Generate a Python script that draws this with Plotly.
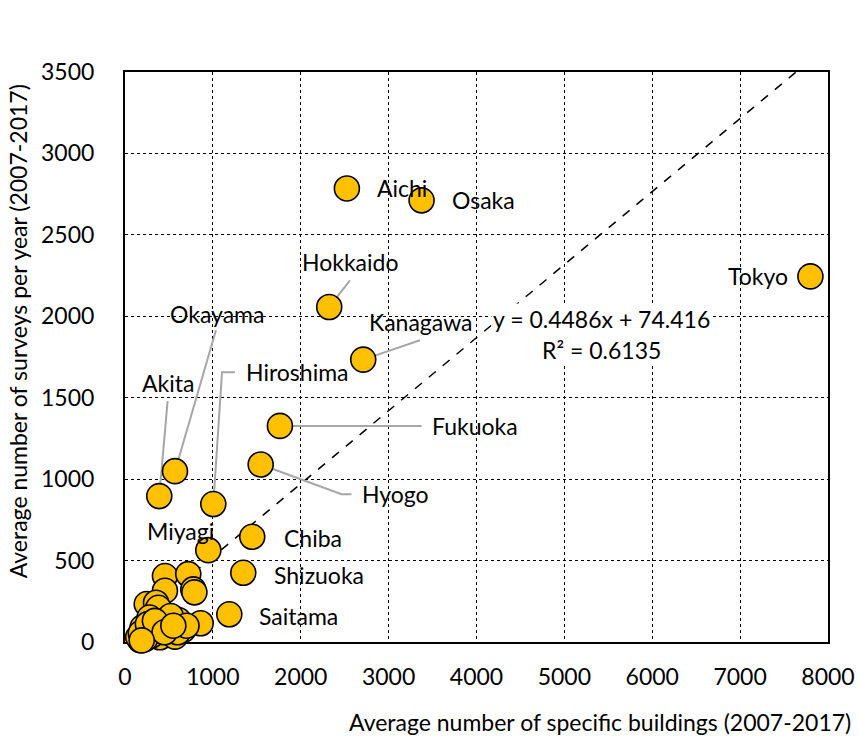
import plotly.graph_objects as go

# Average number of specific buildings vs. average number of surveys per year (2007-2017)
labeled_names = ["Tokyo", "Aichi", "Osaka", "Hokkaido", "Kanagawa", "Fukuoka", "Hyogo",
                 "Chiba", "Shizuoka", "Saitama", "Akita", "Okayama", "Hiroshima", "Miyagi"]
labeled_buildings = [7800, 2525, 3375, 2324, 2711, 1763, 1544,
                     1448, 1346, 1187, 390, 569, 1005, 948]
labeled_surveys = [2245, 2785, 2712, 2057, 1734, 1327, 1090,
                   646, 425, 170, 896, 1049, 847, 564]

# remaining prefectures (unlabelled, clustered near the origin)
other_buildings = [455, 720, 777, 790, 455, 247, 353, 368, 380, 861, 607, 663, 512, 398, 247,
                   171, 150, 322, 569, 200, 280, 300, 230, 420, 520, 600, 700, 180, 260, 340,
                   450, 550, 190]
other_surveys = [405, 417, 323, 305, 315, 233, 241, 196, 210, 115, 135, 74, 94, 29, 63,
                 12, 30, 74, 33, 90, 150, 40, 20, 120, 160, 60, 100, 55, 110, 130,
                 60, 100, 10]

slope, intercept, r2 = 0.4486, 74.416, 0.6135

all_x = labeled_buildings + other_buildings
all_y = labeled_surveys + other_surveys

FONT = "Lato"
FS = 23
GOLD = "#FFC000"
LEADER = "#A6A6A6"

fig = go.Figure()

# linear trendline
x0, x1 = min(all_x), max(all_x)
fig.add_trace(go.Scatter(
    x=[x0, x1], y=[slope * x0 + intercept, slope * x1 + intercept],
    mode="lines", line=dict(color="black", width=1.5, dash="dash"),
    hoverinfo="skip", showlegend=False))

# label placement: (anchor x, anchor y, xanchor, leader path from label toward point)
lookup = dict(zip(labeled_names, zip(labeled_buildings, labeled_surveys)))
label_spec = {
    "Tokyo":     (7565, 2250, "right", [(7656, 2264), (7800, 2264)]),
    "Aichi":     (2844, 2785, "left", []),
    "Osaka":     (3697, 2712, "left", []),
    "Hokkaido":  (2560, 2331, "center", [(2560, 2221)]),
    "Kanagawa":  (3367, 1963, "center", [(3356, 1853)]),
    "Fukuoka":   (3470, 1327, "left", [(3375, 1327)]),
    "Hyogo":     (2674, 908, "left", [(2578, 908), (2464, 908)]),
    "Chiba":     (1786, 638, "left", []),
    "Shizuoka":  (1672, 411, "left", []),
    "Saitama":   (1502, 160, "left", []),
    "Akita":     (489, 1589, "center", [(485, 1480)]),
    "Okayama":   (1047, 2012, "center", [(1035, 1914)]),
    "Hiroshima": (1354, 1656, "left", [(1251, 1656), (1104, 1656)]),
    "Miyagi":    (637, 681, "center", []),
}

for name, (lx, ly, anchor, path) in label_spec.items():
    px, py = lookup[name]
    if path:
        xs = [p[0] for p in path] + [px]
        ys = [p[1] for p in path] + [py]
        fig.add_trace(go.Scatter(x=xs, y=ys, mode="lines",
                                 line=dict(color=LEADER, width=2),
                                 hoverinfo="skip", showlegend=False))
    fig.add_annotation(x=lx, y=ly, text=name, showarrow=False, xanchor=anchor,
                       yanchor="middle", font=dict(family=FONT, size=FS, color="black"))

# markers
fig.add_trace(go.Scatter(
    x=other_buildings + labeled_buildings, y=other_surveys + labeled_surveys,
    mode="markers", cliponaxis=False,
    marker=dict(size=25, color=GOLD, line=dict(color="black", width=1.6)),
    showlegend=False))

# trendline equation
fig.add_annotation(x=5427, y=(642 - 319) / 0.163, text="y = 0.4486x + 74.416",
                   showarrow=False, bgcolor="white", xanchor="center",
                   font=dict(family=FONT, size=FS, color="black"))
fig.add_annotation(x=5427, y=(642 - 350) / 0.163, text=f"R² = {r2}",
                   showarrow=False, bgcolor="white", xanchor="center",
                   font=dict(family=FONT, size=FS, color="black"))

axis_common = dict(
    showline=True, linecolor="black", linewidth=2, mirror=True,
    showgrid=True, gridcolor="black", gridwidth=1, griddash="dot",
    zeroline=False, ticks="", layer="below traces", automargin=False,
    tickfont=dict(family=FONT, size=FS, color="black"),
)
fig.update_xaxes(range=[0, 8000], dtick=1000, tick0=0, ticklabelstandoff=13, **axis_common)
fig.update_yaxes(range=[0, 3500], dtick=500, tick0=0, ticklabelstandoff=24, **axis_common)

fig.add_annotation(xref="paper", yref="paper", x=0.676, y=0, yshift=-80,
                   text="Average number of specific buildings (2007-2017)",
                   showarrow=False, xanchor="center", yanchor="middle",
                   font=dict(family=FONT, size=FS, color="black"))
fig.add_annotation(xref="paper", yref="paper", x=0, xshift=-107, y=0.545,
                   text="Average number of surveys per year (2007-2017)",
                   textangle=-90, showarrow=False, xanchor="center", yanchor="middle",
                   font=dict(family=FONT, size=FS, color="black"))

fig.update_layout(
    width=859, height=737,
    margin=dict(l=125, r=31, t=72, b=95, autoexpand=False),
    plot_bgcolor="white", paper_bgcolor="white",
    showlegend=False,
)

fig.write_html("out.html")
